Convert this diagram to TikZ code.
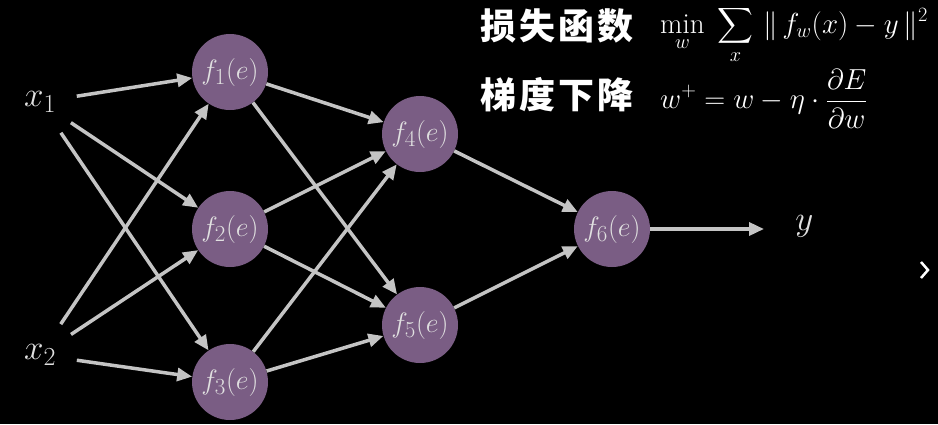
\documentclass[tikz,border=0pt]{standalone}
\usepackage{fix-cm}
\usepackage{amsmath}
\usepackage{fontspec}
\newfontfamily\cjk{Noto Sans CJK SC}
\DeclareMathSizes{28}{28}{23}{17}
\DeclareMathSizes{35}{35}{26}{20}
\usetikzlibrary{arrows.meta, positioning}
\definecolor{neuronpurple}{RGB}{122,93,132}
\definecolor{wiregray}{RGB}{196,196,196}
\definecolor{labelgray}{RGB}{224,224,224}

\begin{document}
\begin{tikzpicture}[x=1pt, y=-1pt,
    neuron/.style={circle, fill=neuronpurple, minimum size=76pt, inner sep=0pt,
      text=labelgray, font=\fontsize{28}{32}\selectfont},
    inlabel/.style={circle, minimum size=74pt, inner sep=0pt,
      text=labelgray, font=\fontsize{35}{40}\selectfont},
    wire/.style={draw=wiregray, line width=3.5pt, -{Triangle[length=15pt,width=13pt]}},
    cntitle/.style={text=white, inner sep=0pt, font=\fontsize{36}{40}\selectfont\cjk\bfseries},
    formula/.style={text=white, anchor=west, inner sep=0pt, font=\fontsize{29}{34}\selectfont}]
    \fill[black] (0,0) rectangle (938,424);

    % inputs
    \node[inlabel] (x1) at (40,102) {$x_1$};
    \node[inlabel] (x2) at (40,355) {$x_2$};

    % hidden layers
    \node[neuron] (f1) at (230,72) {$f_1(e)$};
    \node[neuron] (f2) at (230,229) {$f_2(e)$};
    \node[neuron] (f3) at (230,382) {$f_3(e)$};
    \node[neuron] (f4) at (420,134) {$f_4(e)$};
    \node[neuron] (f5) at (420,325) {$f_5(e)$};
    \node[neuron] (f6) at (612,229) {$f_6(e)$};

    % output
    \coordinate (yend) at (764,229);
    \node[inlabel, anchor=west, minimum size=0pt] (y) at (790,226) {$y$};

    \draw[wire] (x1) -- (f1);
    \draw[wire] (x1) -- (f2);
    \draw[wire] (x1) -- (f3);
    \draw[wire] (x2) -- (f1);
    \draw[wire] (x2) -- (f2);
    \draw[wire] (x2) -- (f3);
    \draw[wire] (f1) -- (f4);
    \draw[wire] (f1) -- (f5);
    \draw[wire] (f2) -- (f4);
    \draw[wire] (f2) -- (f5);
    \draw[wire] (f3) -- (f4);
    \draw[wire] (f3) -- (f5);
    \draw[wire] (f4) -- (f6);
    \draw[wire] (f5) -- (f6);
    \draw[wire] (f6) -- (yend);

    % formulas
    \node[cntitle] (loss) at (557,26) {损\kern3pt 失\kern3pt 函\kern3pt 数};
    \node[cntitle] (grad) at (557,95) {梯\kern3pt 度\kern3pt 下\kern3pt 降};
    \node[formula] (lossf) at (660,35)
      {$\displaystyle \min_{w}\; \sum_{x} \,\|\, f_w(x) - y \,\|^2$};
    \node[formula] (gradf) at (660,99)
      {$\displaystyle w^+ = w - \eta \cdot \frac{\partial E}{\partial w}$};

    % next-slide mark
    \draw[white, line width=2.5pt] (921,262) -- (928,270) -- (921,278);
\end{tikzpicture}
\end{document}
